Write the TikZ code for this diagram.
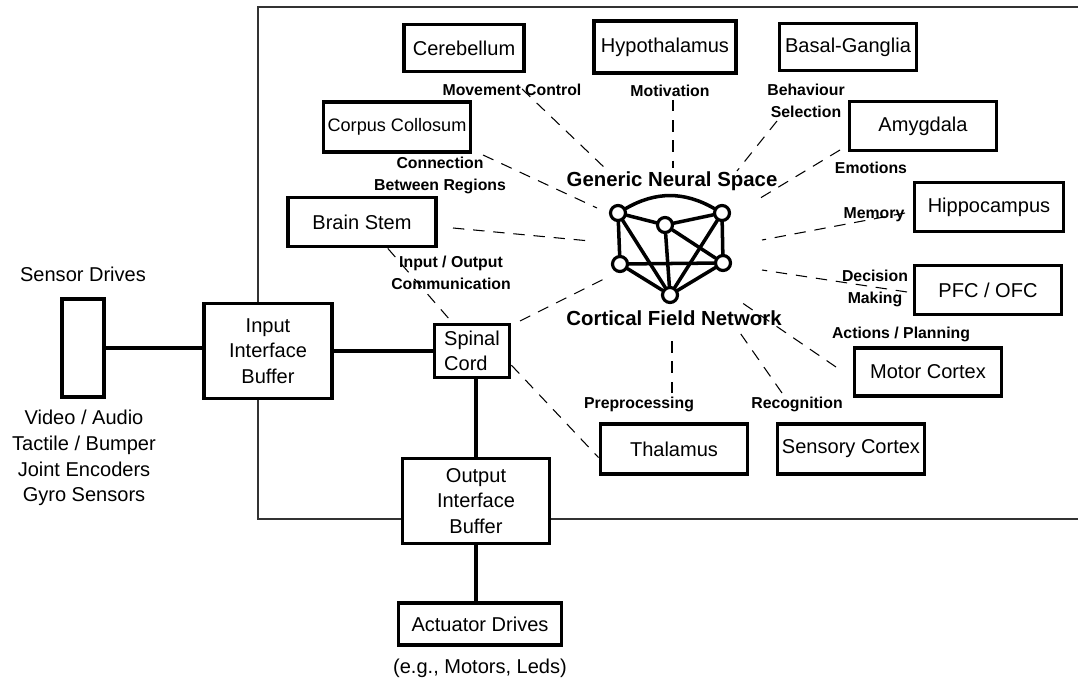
\documentclass[tikz,border=0pt]{standalone}
\usepackage{fontspec}
\setmainfont{Liberation Sans}
\usetikzlibrary{calc,positioning}

\def\totalwidth{1078}
\def\totalheight{686}

\tikzstyle{region}  = [draw,line width=2.2pt,fill=white,inner sep=0pt,
                       align=center,font=\fontsize{11.4}{14.6}\selectfont]
\tikzstyle{role}    = [inner sep=0pt,align=center,
                       font=\bfseries\fontsize{9}{12.5}\selectfont]
\tikzstyle{caption} = [inner sep=0pt,align=center,
                       font=\fontsize{11.4}{14.6}\selectfont]
\tikzstyle{title}   = [inner sep=0pt,font=\bfseries\fontsize{11.6}{14}\selectfont]
\tikzstyle{neuron}  = [draw,circle,line width=1.8pt,fill=white,
                       minimum size=0.30cm,inner sep=0pt]
\tikzset{link/.style={line width=0.6pt,dash pattern=on 6.5pt off 5pt},
         wire/.style={line width=1.8pt},
         synapse/.style={line width=2pt,line cap=round},
         frame/.style={line width=0.9pt,black!80}
}

\begin{document}
\begin{tikzpicture}[x=0.02cm,y=-0.02cm]
        \useasboundingbox (0,0) rectangle (\totalwidth,\totalheight);

        % Frame (open to the right)
        \draw[frame] (\totalwidth,7) -| (258,519) -- (\totalwidth,519);

        % Brain regions
        \node[region,minimum width=2.40cm,minimum height=0.94cm] (cer)    at (464,48)  {Cerebellum};
        \node[region,minimum width=2.84cm,minimum height=1.04cm] (hyp)    at (665,47)  {Hypothalamus};
        \node[region,minimum width=2.74cm,minimum height=0.94cm] (bas)    at (848,47)  {Basal-Ganglia};
        \node[region,minimum width=2.94cm,minimum height=1.00cm,
              font=\fontsize{10.3}{12}\selectfont]               (cor)    at (397,127) {Corpus Collosum};
        \node[region,minimum width=2.96cm,minimum height=0.98cm] (bst)    at (362,222) {Brain Stem};
        \node[region,minimum width=2.94cm,minimum height=0.98cm] (amy)    at (923,126) {Amygdala};
        \node[region,minimum width=2.98cm,minimum height=0.98cm] (hip)    at (989,207) {Hippocampus};
        \node[region,minimum width=2.94cm,minimum height=0.98cm] (pfc)    at (988,290) {PFC / OFC};
        \node[region,minimum width=2.94cm,minimum height=0.96cm] (mot)    at (928,372) {Motor Cortex};
        \node[region,minimum width=2.94cm,minimum height=1.00cm] (tha)    at (674,449) {Thalamus};
        \node[region,minimum width=2.94cm,minimum height=1.00cm] (sen)    at (851,449) {Sensory Cortex};
        \node[region,minimum width=1.50cm,minimum height=1.06cm,
              align=left]                                        (spinal) at (472,351) {Spinal\\Cord};

        % Interface
        \node[region,minimum width=0.84cm,minimum height=1.96cm] (sensor) at (83,348)  {};
        \node[region,minimum width=2.56cm,minimum height=1.90cm] (inbuf)  at (268,351) {Input\\Interface\\Buffer};
        \node[region,minimum width=2.94cm,minimum height=1.70cm] (outbuf) at (476,501) {Output\\Interface\\Buffer};
        \node[region,minimum width=3.26cm,minimum height=0.84cm] (act)    at (480,624) {Actuator Drives};

        \node[caption] (sdlab)  at (83,274) {Sensor Drives};
        \node[caption] (sdlist) at (84,458) {Video / Audio\\Tactile / Bumper\\Joint Encoders\\Gyro Sensors};
        \node[caption,below=0.24cm of act] (actlab) {(e.g., Motors, Leds)};

        \draw[wire] (sensor.east) -- (sensor.east -| inbuf.west);
        \draw[wire] (inbuf.east) -- (spinal.west);
        \draw[wire] (outbuf.north) -- (outbuf.north |- spinal.south);
        \draw[wire] (outbuf.south) -- (outbuf.south |- act.north);

        % Cortical field network
        \node[neuron] (n1) at (618,213) {};
        \node[neuron] (n2) at (665,225) {};
        \node[neuron] (n3) at (722,213) {};
        \node[neuron] (n4) at (620,264) {};
        \node[neuron] (n5) at (723,263) {};
        \node[neuron] (n6) at (670,295) {};
        \foreach \a/\b in {n1/n2,n2/n3,n1/n4,n3/n5,n4/n5,n1/n6,n2/n6,n3/n6,n4/n6,n5/n6,n2/n5}
            \draw[synapse] (\a) -- (\b);
        \draw[synapse] (n1) to[bend left=30] (n3);

        \node[title] (gns) at (672,181) {Generic Neural Space};
        \node[title] (cfn) at (674,318) {Cortical Field Network};

        % Dashed fibres: outer end (o) / inner end (i)
        \coordinate (cer-o) at (522,89);  \coordinate (cer-i) at (607,170);
        \coordinate (hyp-o) at (673,100); \coordinate (hyp-i) at (673,168);
        \coordinate (bas-o) at (777,121); \coordinate (bas-i) at (737,171);
        \coordinate (cor-o) at (483,155); \coordinate (cor-i) at (597,208);
        \coordinate (amy-o) at (840,150); \coordinate (amy-i) at (757,200);
        \coordinate (bst-o) at (453,228); \coordinate (bst-i) at (590,241);
        \coordinate (hip-o) at (905,213); \coordinate (hip-i) at (762,240);
        \coordinate (spi-o) at (520,321); \coordinate (spi-i) at (608,277);
        \coordinate (pfc-o) at (907,292); \coordinate (pfc-i) at (762,270);
        \coordinate (mot-o) at (836,367); \coordinate (mot-i) at (738,300);
        \coordinate (sen-o) at (782,393); \coordinate (sen-i) at (738,330);
        \coordinate (tha-o) at (672,393); \coordinate (tha-i) at (672,333);
        \foreach \r in {cer,hyp,bas,cor,amy,bst,hip,spi,pfc,mot,sen,tha}
            \draw[link] (\r-o) -- (\r-i);
        \draw[link] ($(bst.south west)!0.67!(bst.south east)$) -- ($(spinal.north west)!0.25!(spinal.north east)$);
        \draw[link] ($(spinal.north east)!0.75!(spinal.south east)$) -- ($(tha.north west)!0.66!(tha.south west)$);

        % Roles
        \node[role] (lmov) at (512,90)  {Movement Control};
        \node[role] (lmot) at (670,91)  {Motivation};
        \node[role] (lbeh) at (806,101) {Behaviour\\Selection};
        \node[role] (lcon) at (440,175) {Connection\\Between Regions};
        \node[role] (lemo) at (871,168) {Emotions};
        \node[role] (lmem) at (874,215) {Memory};
        \node[role] (lio)  at (451,273) {Input / Output\\Communication};
        \node[role] (ldec) at (875,288) {Decision\\Making};
        \node[role] (lact) at (901,334) {Actions / Planning};
        \node[role] (lpre) at (639,404) {Preprocessing};
        \node[role] (lrec) at (797,404) {Recognition};
\end{tikzpicture}
\end{document}
